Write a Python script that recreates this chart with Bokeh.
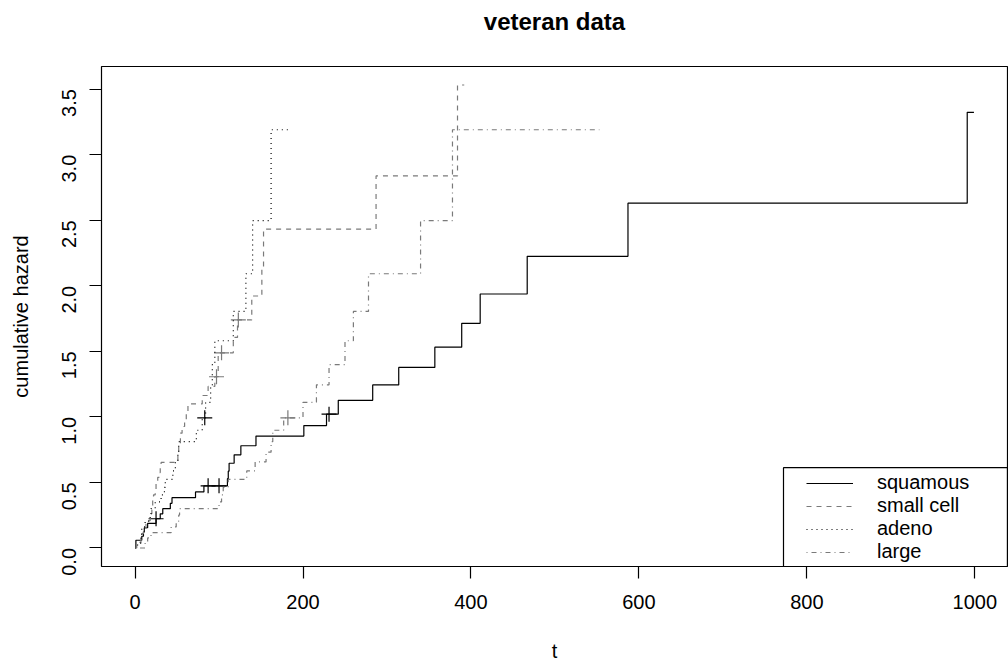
import math
from bokeh.plotting import figure
from bokeh.models import (Range1d, FixedTicker, PrintfTickFormatter, Legend, LegendItem,
                          BoxAnnotation, Title)
from bokeh.embed import file_html
from bokeh.resources import INLINE

# ---------------- data (cumulative hazard step values) -------------
groups = ["squamous", "small cell", "adeno", "large"]

sq_t = [1, 8, 10, 11, 15, 25, 30, 33, 42, 44, 72, 82, 110, 111, 112, 118, 126, 144,
        201, 228, 242, 283, 314, 357, 389, 411, 467, 587, 991]
sq_h = [0.0588, 0.0896, 0.1214, 0.1542, 0.1881, 0.2231, 0.2609, 0.3001, 0.3409, 0.3835,
        0.4279, 0.4745, 0.5285, 0.5857, 0.6463, 0.7108, 0.7798, 0.8539, 0.9340, 1.0210,
        1.1264, 1.2441, 1.3777, 1.5318, 1.7141, 1.9373, 2.2250, 2.6304, 3.3236]
sq_end = 999
sq_cens_t = [25, 87, 100, 231]
sq_cens_h = [0.2231, 0.4745, 0.4745, 1.0210]

sc_t = [2, 4, 7, 8, 10, 13, 16, 18, 20, 21, 22, 24, 25, 27, 29, 30, 31, 51, 52, 54,
        56, 59, 61, 63, 80, 87, 95, 99, 117, 122, 139, 151, 153, 287, 384]
sc_h = [0.0211, 0.0426, 0.0870, 0.1100, 0.1335, 0.1823, 0.2076, 0.2603, 0.3159, 0.3747,
        0.4055, 0.4372, 0.5039, 0.5390, 0.5754, 0.6131, 0.6523, 0.7357, 0.7802, 0.8755,
        0.9268, 0.9808, 1.0380, 1.0986, 1.1631, 1.2321, 1.3062, 1.4886, 1.6063, 1.7399,
        1.9222, 2.1453, 2.4330, 2.8385, 3.5316]
sc_end = 392
sc_cens_t = [97, 103, 123]
sc_cens_h = [1.3062, 1.4886, 1.7399]

ad_t = [3, 7, 8, 12, 18, 19, 24, 31, 35, 36, 45, 48, 51, 52, 73, 80, 84, 90, 92, 95,
        117, 132, 140, 162]
ad_h = [0.0377, 0.0770, 0.1603, 0.2048, 0.2513, 0.3001, 0.3514, 0.4055, 0.4626, 0.5232,
        0.5878, 0.6568, 0.7309, 0.8109, 0.8979, 0.9932, 1.1110, 1.2446, 1.3987, 1.5810,
        1.8042, 2.0918, 2.4973, 3.1905]
ad_end = 186
ad_cens_t = [83]
ad_cens_h = [0.9932]

lg_t = [12, 15, 19, 43, 49, 52, 53, 100, 103, 105, 111, 133, 143, 156, 162, 164, 177,
        200, 216, 231, 250, 260, 278, 340, 378]
lg_h = [0.0377, 0.0770, 0.1178, 0.1603, 0.2048, 0.2513, 0.3001, 0.3514, 0.4055, 0.4626,
        0.5232, 0.5878, 0.6568, 0.7309, 0.8109, 0.8979, 0.9932, 1.1110, 1.2446, 1.3987,
        1.5810, 1.8042, 2.0918, 2.4973, 3.1905]
lg_end = 553
lg_cens_t = [182]
lg_cens_h = [0.9932]

x_ticks = [0, 200, 400, 600, 800, 1000]
y_ticks = [0.0, 0.5, 1.0, 1.5, 2.0, 2.5, 3.0, 3.5]
title_text = "veteran data"

# ---------------- styles -------------------------------------------------------------
FONT = "Liberation Sans"
GRAY = "#7a7a7a"
styles = [
    dict(color="black", dash="solid"),
    dict(color=GRAY, dash="5 5"),
    dict(color="black", dash="1 4"),
    dict(color=GRAY, dash="1 4 5 4"),
]

series = [
    (sq_t, sq_h, sq_end, sq_cens_t, sq_cens_h),
    (sc_t, sc_h, sc_end, sc_cens_t, sc_cens_h),
    (ad_t, ad_h, ad_end, ad_cens_t, ad_cens_h),
    (lg_t, lg_h, lg_end, lg_cens_t, lg_cens_h),
]

# R-style 4% axis padding
x_lo, x_hi = 0, max(s[2] for s in series)
y_lo, y_hi = 0, max(max(s[1]) for s in series)
xp = 0.04 * (x_hi - x_lo)
yp = 0.04 * (y_hi - y_lo)
x_range = Range1d(x_lo - xp, x_hi + xp)
y_range = Range1d(y_lo - yp, y_hi + yp)

p = figure(width=1008, height=664, x_range=x_range, y_range=y_range,
           output_backend="svg", toolbar_location=None,
           min_border_left=101, min_border_right=1, min_border_top=66, min_border_bottom=97)

# real title, with an empty spacer stacked between it and the plot box
p.title = Title(text=title_text, align="center", text_font=FONT,
                text_font_size="24px", text_font_style="bold", text_color="black",
                standoff=10)
p.add_layout(Title(text=" ", text_font=FONT, text_font_size="10px", standoff=14), "above")

p.background_fill_color = "white"
p.border_fill_color = "white"
p.outline_line_color = "black"
p.outline_line_width = 1.2
p.outline_line_alpha = 1
p.grid.visible = False

for ax in (p.xaxis[0], p.yaxis[0]):
    ax.axis_line_color = None
    ax.major_tick_line_color = "black"
    ax.major_tick_line_width = 1.2
    ax.major_tick_out = 12
    ax.major_tick_in = 0
    ax.minor_tick_line_color = None
    ax.major_label_text_font = FONT
    ax.major_label_text_font_size = "20px"
    ax.major_label_text_color = "black"
    ax.axis_label_text_font = FONT
    ax.axis_label_text_font_size = "20px"
    ax.axis_label_text_font_style = "normal"
    ax.axis_label_text_color = "black"

p.xaxis.ticker = FixedTicker(ticks=x_ticks)
p.yaxis.ticker = FixedTicker(ticks=y_ticks)
p.yaxis.formatter = PrintfTickFormatter(format="%.1f")
p.yaxis.major_label_orientation = math.pi / 2
p.xaxis.axis_label = "t"
p.yaxis.axis_label = "cumulative hazard"
p.xaxis.major_label_standoff = 16
p.xaxis.axis_label_standoff = 28
p.yaxis.major_label_standoff = 20
p.yaxis.axis_label_standoff = 21

xr = x_range.end - x_range.start
yr = y_range.end - y_range.start

items = []
for name, (t, h, end, ct, ch), st in zip(groups, series, styles):
    xs = [0] + list(t) + [end]
    ys = [0] + list(h) + [h[-1]]
    r = p.step(xs, ys, mode="after", line_color=st["color"], line_width=1.2,
               line_dash=st["dash"])
    p.scatter(ct, ch, marker="cross", size=15, line_color=st["color"], line_width=1.2)
    items.append(LegendItem(label=name, renderers=[r]))

# legend frame (R-style box anchored at the bottom-right corner of the plot region)
box = BoxAnnotation(left=x_range.start + xr * 682 / 906, right=x_range.end,
                    bottom=y_range.start, top=y_range.start + yr * 99 / 501,
                    fill_alpha=0, line_color="black", line_width=1.2, line_alpha=1)
p.add_layout(box)

legend = Legend(items=items, location=(705, 3), padding=0, margin=0, spacing=0,
                glyph_width=47, glyph_height=18, label_standoff=24,
                label_text_font=FONT, label_text_font_size="20px",
                label_text_color="black", background_fill_alpha=0,
                border_line_alpha=0)
p.add_layout(legend)

open("out.html", "w").write(file_html(p, INLINE))
